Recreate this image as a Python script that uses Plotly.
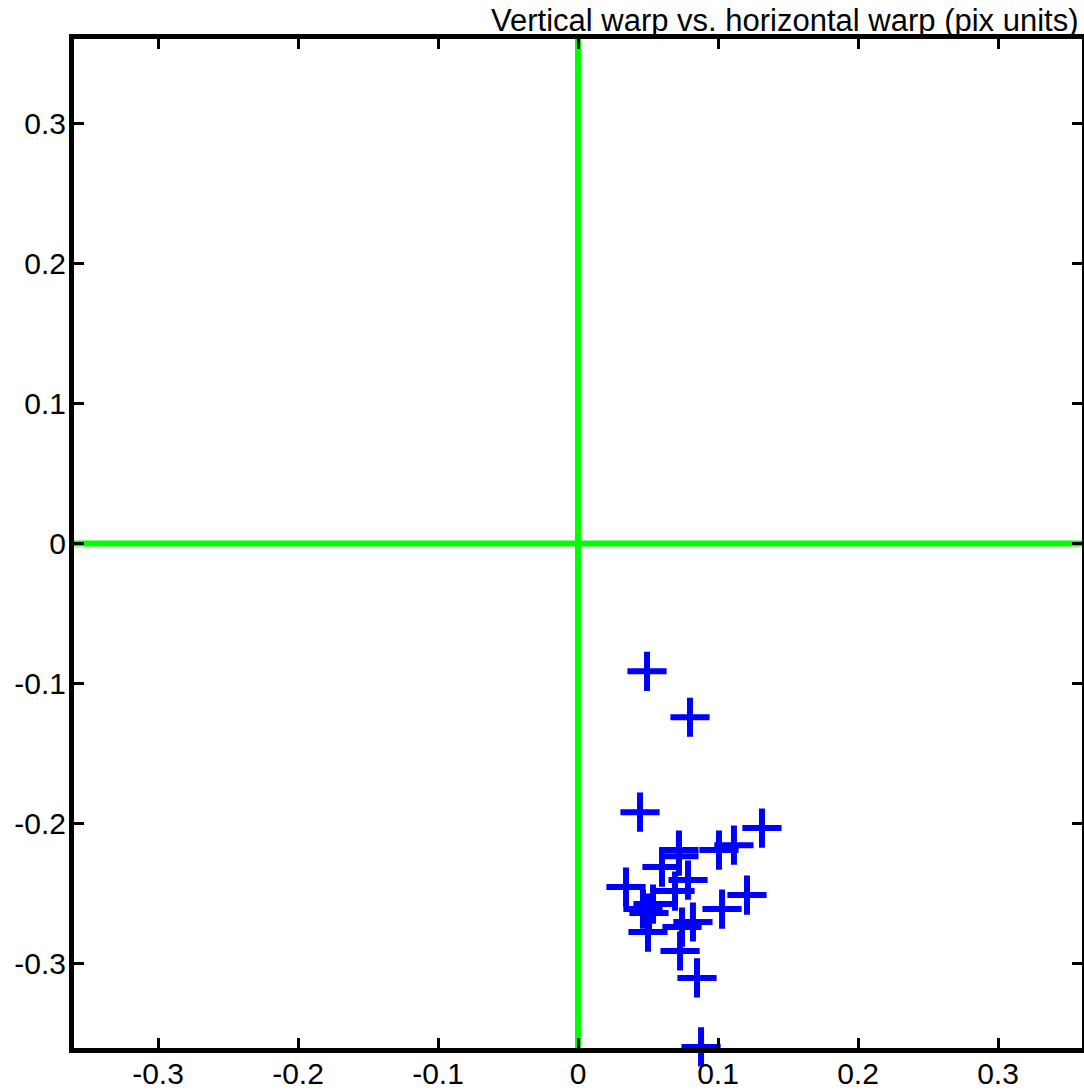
import plotly.graph_objects as go

# Horizontal warp (x) and vertical warp (y), pixel units
horiz_warp = [0.0493, 0.0800, 0.0443, 0.1314, 0.1114, 0.1007, 0.0721, 0.0721,
              0.0600, 0.0786, 0.0343, 0.1207, 0.0693, 0.0536, 0.0464, 0.0507,
              0.1029, 0.0821, 0.0743, 0.0500, 0.0729, 0.0850, 0.0879]
vert_warp = [-0.0912, -0.1240, -0.1917, -0.2031, -0.2153, -0.2188, -0.2188, -0.2231,
             -0.2309, -0.2402, -0.2452, -0.2509, -0.2480, -0.2573, -0.2609, -0.2637,
             -0.2609, -0.2701, -0.2737, -0.2773, -0.2908, -0.3100, -0.3592]

axis_range = [-0.36, 0.36]
tick_vals = [-0.3, -0.2, -0.1, 0, 0.1, 0.2, 0.3]
tick_text = ["-0.3", "-0.2", "-0.1", "0", "0.1", "0.2", "0.3"]
title_text = "Vertical warp vs. horizontal warp (pix units)"

fig = go.Figure()

# green reference lines through origin
fig.add_trace(go.Scatter(x=axis_range, y=[0, 0], mode="lines",
                         line=dict(color="#00FF00", width=6), hoverinfo="skip",
                         showlegend=False))
fig.add_trace(go.Scatter(x=[0, 0], y=axis_range, mode="lines",
                         line=dict(color="#00FF00", width=6), hoverinfo="skip",
                         showlegend=False))

fig.add_trace(go.Scatter(x=horiz_warp, y=vert_warp, mode="markers",
                         marker=dict(symbol="cross-thin", size=28,
                                     line=dict(color="#0000FF", width=6)),
                         cliponaxis=False, showlegend=False))

axis_common = dict(range=axis_range, tickvals=tick_vals, ticktext=tick_text,
                   showgrid=False, zeroline=False, showline=True,
                   linecolor="black", linewidth=5, mirror="allticks",
                   ticks="inside", ticklen=10, tickwidth=3, tickcolor="black",
                   automargin=False,
                   tickfont=dict(family="Liberation Sans, Arial", size=30,
                                 color="black"))

fig.update_layout(
    width=1084, height=1090,
    margin=dict(l=74, r=2, t=39, b=42),
    paper_bgcolor="white", plot_bgcolor="white",
    xaxis=dict(**axis_common, ticklabelstandoff=-5),
    yaxis=dict(**axis_common, ticklabelstandoff=-3),
    annotations=[dict(text=title_text, xref="paper", yref="paper",
                      x=1.0, y=1.0, xanchor="right", yanchor="bottom",
                      yshift=-1, xshift=-1, showarrow=False,
                      font=dict(family="Liberation Sans, Arial", size=31,
                                color="black"))],
)

fig.write_html("out.html")
